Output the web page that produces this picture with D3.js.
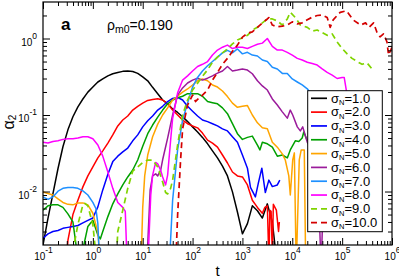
<!DOCTYPE html>
<html>
<head>
<meta charset="utf-8">
<script src="https://cdn.jsdelivr.net/npm/d3@7"></script>
<style>
  body { margin: 0; background: #fff; }
  svg text { font-family: "Liberation Sans", Arial, Helvetica, sans-serif; }
</style>
</head>
<body>
<div id="chart"></div>
<script>
// Values: t and alpha_2 for every sigma_N curve
var tS1 = [0.1, 0.126, 0.158, 0.2, 0.251, 0.316, 0.398, 0.501, 0.631, 0.794, 1, 1.26, 1.58, 2, 2.51, 3.16, 3.98, 5.01, 6.31, 7.94, 10, 12.6, 15.8, 20, 25.1, 31.6, 39.8, 50.1, 63.1, 79.4, 100, 126, 158, 200, 251, 316, 398, 501, 631, 794, 1000, 1260, 1580, 2000, 2510, 3160, 3980, 4570, 4800];
var aS1 = [0.0020, 0.0045, 0.0093, 0.020, 0.0385, 0.064, 0.095, 0.128, 0.162, 0.199, 0.232, 0.27, 0.296, 0.325, 0.346, 0.36, 0.372, 0.376, 0.37, 0.35, 0.315, 0.28, 0.23, 0.19, 0.157, 0.14, 0.12, 0.108, 0.095, 0.082, 0.07, 0.06, 0.051, 0.042, 0.034, 0.0275, 0.0215, 0.016, 0.0099, 0.0054, 0.0028, 0.0038, 0.0065, 0.0056, 0.0045, 0.0069, 0.0040, 0.0018, 0.001];

var tS2 = [0.302, 0.316, 0.398, 0.501, 0.631, 0.794, 1, 1.26, 1.58, 2, 2.51, 3.16, 3.98, 5.01, 6.31, 7.94, 10, 12.6, 15.8, 20, 25.1, 31.6, 39.8, 50.1, 63.1, 79.4, 100, 126, 158, 200, 251, 316, 398, 501, 631, 794, 1000, 1260, 1580, 2000, 2510, 2820, 3160, 3400, 3550, 3760, 3980, 4170, 4790, 5300, 5500];
var aS2 = [0.0015, 0.0023, 0.005, 0.0077, 0.0115, 0.016, 0.021, 0.0275, 0.034, 0.043, 0.055, 0.072, 0.086, 0.097, 0.116, 0.13, 0.143, 0.155, 0.16, 0.163, 0.157, 0.14, 0.116, 0.1, 0.086, 0.077, 0.072, 0.068, 0.058, 0.047, 0.043, 0.038, 0.030, 0.0236, 0.018, 0.016, 0.0155, 0.0122, 0.0077, 0.0062, 0.0052, 0.0062, 0.0065, 0.0012, 0.0057, 0.0055, 0.0015, 0.0068, 0.0057, 0.003, 0.004];

var tS3 = [0.1, 0.126, 0.158, 0.2, 0.251, 0.316, 0.398, 0.501, 0.631, 0.794, 1, 1.26, 1.58, 2, 2.51, 3.16, 3.98, 5.01, 6.31, 7.94, 10, 12.6, 15.8, 20, 25.1, 31.6, 39.8, 50.1, 63.1, 79.4, 100, 126, 158, 200, 251, 316, 398, 501, 631, 794, 1000, 1260, 1450, 1820, 2090, 2450, 2880, 3390, 3980, 5010, 5620];
var aS3 = [0.00245, 0.0028, 0.003, 0.0031, 0.0033, 0.0034, 0.0035, 0.0036, 0.0039, 0.0042, 0.0045, 0.0063, 0.0105, 0.0168, 0.0246, 0.029, 0.033, 0.037, 0.046, 0.055, 0.07, 0.084, 0.097, 0.116, 0.13, 0.15, 0.165, 0.17, 0.157, 0.13, 0.112, 0.097, 0.086, 0.082, 0.077, 0.072, 0.066, 0.062, 0.052, 0.044, 0.03, 0.0202, 0.0113, 0.0085, 0.013, 0.0202, 0.0097, 0.0141, 0.0116, 0.0122, 0.0141];

var tS4 = [0.1, 0.126, 0.158, 0.2, 0.251, 0.316, 0.398, 0.46, 0.52, 0.6, 0.66, 0.794, 1, 1.26, 1.41, 1.58, 2, 2.51, 3.16, 3.98, 5.01, 6.31, 7.94, 10, 12.6, 15.8, 20, 25.1, 31.6, 39.8, 50.1, 63.1, 79.4, 100, 126, 158, 200, 251, 316, 398, 501, 631, 794, 1000, 1260, 1580, 2000, 2240, 2510, 3160, 3980, 5010, 6310, 7940, 9120, 11500, 13500, 15800, 17000, 20000];
var aS4 = [0.0057, 0.0065, 0.0067, 0.0067, 0.0062, 0.0051, 0.004, 0.002, 0.001, 0.001, 0.002, 0.0035, 0.0042, 0.0027, 0.0024, 0.003, 0.0047, 0.0069, 0.0093, 0.0122, 0.0155, 0.0191, 0.0258, 0.039, 0.057, 0.074, 0.094, 0.116, 0.14, 0.157, 0.168, 0.176, 0.19, 0.19, 0.19, 0.176, 0.15, 0.145, 0.14, 0.124, 0.104, 0.077, 0.057, 0.048, 0.051, 0.053, 0.0405, 0.035, 0.044, 0.042, 0.038, 0.029, 0.03, 0.0275, 0.035, 0.046, 0.045, 0.05, 0.06, 0.046];

var tS5 = [0.1, 0.126, 0.158, 0.2, 0.251, 0.316, 0.398, 0.501, 0.631, 0.794, 1, 1.26, 1.41, 9.3, 10, 10.96, 12.6, 15.8, 20, 25.1, 31.6, 39.8, 50.1, 63.1, 79.4, 100, 126, 158, 200, 251, 316, 398, 501, 631, 794, 1000, 1260, 1580, 2000, 2510, 3160, 3980, 5010, 6310, 7240, 8510, 9120, 10200, 11000, 12000, 13800, 15100, 17400, 18600];
var aS5 = [0.0099, 0.0094, 0.009, 0.008, 0.0072, 0.0068, 0.0067, 0.0071, 0.0071, 0.0067, 0.0052, 0.0029, 0.0012, 0.0012, 0.0062, 0.016, 0.03, 0.052, 0.076, 0.1, 0.124, 0.157, 0.176, 0.199, 0.219, 0.247, 0.28, 0.296, 0.28, 0.247, 0.232, 0.206, 0.174, 0.143, 0.126, 0.13, 0.133, 0.1, 0.079, 0.068, 0.066, 0.044, 0.038, 0.031, 0.0258, 0.016, 0.009, 0.0258, 0.032, 0.001, 0.026, 0.035, 0.035, 0.001];

var tS6 = [12.0, 14.1, 15.8, 18.2, 20, 22.9, 25.1, 31.6, 39.8, 50.1, 63.1, 79.4, 100, 126, 158, 200, 251, 316, 398, 501, 631, 794, 1000, 1260, 1580, 2000, 2510, 3160, 3980, 5010, 6310, 7940, 9120, 10200, 12600, 14500, 16200, 20000, 25100, 31600, 38000, 43700, 50100, 60000];
var aS6 = [0.001, 0.0105, 0.016, 0.017, 0.016, 0.019, 0.026, 0.05, 0.1, 0.182, 0.226, 0.262, 0.286, 0.303, 0.286, 0.303, 0.325, 0.353, 0.376, 0.43, 0.376, 0.387, 0.4, 0.387, 0.346, 0.28, 0.24, 0.212, 0.162, 0.135, 0.11, 0.091, 0.116, 0.1, 0.07, 0.062, 0.07, 0.044, 0.035, 0.026, 0.001, 0.022, 0.02, 0.018];

var tS7 = [0.1, 0.126, 0.158, 0.2, 0.251, 0.316, 0.398, 0.501, 0.631, 0.794, 1, 1.15, 1.26, 1.38, 33.9, 39.8, 50.1, 63.1, 79.4, 100, 126, 158, 200, 251, 316, 398, 501, 631, 794, 1000, 1260, 1580, 2000, 2510, 3160, 3980, 5010, 6310, 7940, 10000, 12600, 15800, 20000, 25100];
var aS7 = [0.0085, 0.0079, 0.0085, 0.0101, 0.011, 0.0113, 0.0113, 0.011, 0.0102, 0.009, 0.0072, 0.006, 0.0038, 0.001, 0.001, 0.0077, 0.035, 0.086, 0.143, 0.232, 0.31, 0.376, 0.44, 0.5, 0.57, 0.65, 0.7, 0.65, 0.73, 0.63, 0.66, 0.608, 0.59, 0.523, 0.5, 0.42, 0.4, 0.35, 0.35, 0.296, 0.27, 0.247, 0.22, 0.18];

var tS8 = [0.1, 0.126, 0.158, 0.2, 0.251, 0.316, 0.398, 0.501, 0.631, 0.794, 1, 1.26, 1.58, 2, 2.51, 3.16, 3.98, 4.47, 4.9, 12.6, 14.5, 15.8, 18.2, 20, 22.9, 25.1, 28.8, 31.6, 36.3, 39.8, 50.1, 63.1, 79.4, 100, 126, 158, 200, 251, 316, 398, 501, 631, 794, 1000, 1260, 1580, 2000, 2510, 3160, 3980, 5010, 6310, 7940, 10000, 12600, 15800, 20000, 25100, 31600, 39800, 50100, 63100, 79400, 100000, 110000, 126000];
var aS8 = [0.044, 0.043, 0.045, 0.046, 0.048, 0.049, 0.049, 0.05, 0.052, 0.052, 0.049, 0.0405, 0.029, 0.018, 0.011, 0.0072, 0.0062, 0.0055, 0.001, 0.001, 0.009, 0.0164, 0.024, 0.023, 0.019, 0.0155, 0.0122, 0.0164, 0.047, 0.09, 0.195, 0.286, 0.325, 0.376, 0.43, 0.46, 0.5, 0.61, 0.706, 0.77, 0.82, 0.74, 0.77, 0.77, 0.74, 0.79, 0.84, 0.87, 1.0, 0.79, 0.706, 0.706, 0.66, 0.608, 0.55, 0.523, 0.49, 0.47, 0.45, 0.4, 0.36, 0.333, 0.3, 0.31, 0.31, 0.18];

var tS9 = [0.398, 0.437, 0.501, 0.631, 0.692, 0.794, 1, 1.15, 1.26, 2.9, 3.16, 3.98, 5.01, 6.31, 7.94, 10, 12.6, 15.8, 20, 25.1, 28.8, 31.6, 36.3, 39.8, 50.1, 63.1, 79.4, 100, 126, 158, 200, 251, 316, 398, 501, 631, 794, 1000, 1260, 1580, 2000, 2510, 3160, 3980, 5010, 6310, 7940, 9120, 11500, 14500, 20000, 25100, 31600, 39800, 50100, 63100, 79400, 100000, 126000, 158000, 200000, 251000, 316000, 398000, 427000];
var aS9 = [0.0012, 0.0023, 0.0037, 0.0067, 0.007, 0.0065, 0.0037, 0.0015, 0.0008, 0.001, 0.003, 0.0057, 0.011, 0.0185, 0.021, 0.024, 0.0258, 0.0258, 0.021, 0.0133, 0.0097, 0.0093, 0.011, 0.0141, 0.0405, 0.1, 0.157, 0.212, 0.26, 0.32, 0.39, 0.49, 0.57, 0.65, 0.73, 0.85, 0.955, 1.02, 1.1, 1.29, 1.4, 1.6, 1.8, 1.8, 1.7, 1.5, 1.8, 2.2, 1.88, 1.5, 1.4, 1.25, 1.29, 1.2, 1.1, 1.15, 0.9, 0.74, 0.63, 0.55, 0.5, 0.46, 0.48, 0.4, 0.38];

var tS10 = [45.7, 50.1, 57.5, 63.1, 79.4, 100, 115, 126, 158, 200, 251, 316, 398, 501, 631, 794, 1000, 1260, 1580, 2000, 2510, 3160, 3390, 3980, 5010, 6310, 7940, 10000, 12600, 15800, 20000, 25100, 31600, 39800, 50100, 57500, 66100, 91200, 123000, 166000, 234000, 295000, 347000, 427000, 501000, 575000, 676000, 794000, 851000, 1000000];
var aS10 = [0.001, 0.0049, 0.0258, 0.066, 0.135, 0.182, 0.15, 0.16, 0.182, 0.212, 0.286, 0.36, 0.46, 0.55, 0.68, 0.82, 1.04, 1.17, 1.22, 1.4, 1.6, 1.8, 1.88, 1.5, 1.42, 1.45, 1.5, 1.65, 1.55, 1.6, 1.76, 1.9, 2.0, 2.03, 1.88, 1.4, 1.75, 2.2, 2.3, 1.75, 1.5, 1.6, 1.4, 1.6, 1.2, 1.05, 1.15, 0.9, 0.608, 0.77];

// Legend labels (sigma_N values) and tick exponents
var sigmaLabels = ["1.0", "2.0", "3.0", "4.0", "5.0", "6.0", "7.0", "8.0", "9.0", "10.0"];
var xTickExp = ["-1", "0", "1", "2", "3", "4", "5", "6"];
var yTickExp = ["-2", "-1", "0"];

var tAll = [tS1, tS2, tS3, tS4, tS5, tS6, tS7, tS8, tS9, tS10];
var aAll = [aS1, aS2, aS3, aS4, aS5, aS6, aS7, aS8, aS9, aS10];
var lineColors = ["#000000", "#ff0000", "#0000ff", "#00a000", "#ffa500", "#9b1b9b", "#1e90ff", "#ff00ff", "#80d400", "#d40000"];
var lineDash = [null, null, null, null, null, null, null, null, "6,4", "6,4"];

// Set svg height and width
var svgWidth = 399;
var svgHeight = 278;
var margin = { top: 2, right: 7, bottom: 33, left: 43 };
var chartWidth = svgWidth - margin.left - margin.right;
var chartHeight = svgHeight - margin.top - margin.bottom;

var svg = d3.select("#chart")
    .append("svg")
    .attr("width", svgWidth)
    .attr("height", svgHeight);

var chartGroup = svg.append("g")
    .attr("transform", `translate(${margin.left}, ${margin.top})`);

// Log scales
var xLogScale = d3.scaleLog().domain([0.1, 1e6]).range([0, chartWidth]);
var yLogScale = d3.scaleLog().domain([0.002, 3]).range([chartHeight, 0]);

var xMajor = xTickExp.map(e => Math.pow(10, +e));
var yMajor = yTickExp.map(e => Math.pow(10, +e));

// minor ticks 2..9 inside each decade
function minorTicks(scale) {
    var dom = scale.domain(), out = [];
    for (var e = Math.floor(Math.log10(dom[0])); e <= Math.ceil(Math.log10(dom[1])); e++) {
        for (var m = 2; m <= 9; m++) {
            var v = m * Math.pow(10, e);
            if (v > dom[0] * 1.001 && v < dom[1] * 0.999) out.push(v);
        }
    }
    return out;
}

// "10" with a raised exponent
function powerLabels(g, exps) {
    g.selectAll(".tick text").each(function (d, i) {
        var t = d3.select(this).text("");
        t.append("tspan").text("10");
        t.append("tspan").attr("dy", -7).attr("font-size", "8.5px").text(exps[i]);
    });
}

// Curves, clipped to the plot area
svg.append("defs").append("clipPath").attr("id", "plotClip")
    .append("rect").attr("width", chartWidth).attr("height", chartHeight);

var line = d3.line()
    .x(d => xLogScale(d[0]))
    .y(d => yLogScale(d[1]));

var curves = chartGroup.append("g").attr("clip-path", "url(#plotClip)");
tAll.forEach(function (tArr, i) {
    curves.append("path")
        .datum(d3.zip(tArr, aAll[i]))
        .attr("d", line)
        .attr("fill", "none")
        .attr("stroke", lineColors[i])
        .attr("stroke-width", lineDash[i] ? 1.7 : 1.5)
        .attr("stroke-dasharray", lineDash[i])
        .attr("stroke-linejoin", "round");
});

// Axes: ticks point inward on all four sides
var xBottom = chartGroup.append("g")
    .attr("transform", `translate(0, ${chartHeight})`)
    .attr("font-size", 12)
    .call(d3.axisBottom(xLogScale).tickValues(xMajor).tickSize(-7).tickSizeOuter(0).tickPadding(8).tickFormat(""));
powerLabels(xBottom, xTickExp);
chartGroup.append("g")
    .attr("transform", `translate(0, ${chartHeight})`)
    .call(d3.axisBottom(xLogScale).tickValues(minorTicks(xLogScale)).tickSize(-4).tickSizeOuter(0).tickFormat(""));
chartGroup.append("g")
    .call(d3.axisTop(xLogScale).tickValues(xMajor).tickSize(-7).tickSizeOuter(0).tickFormat(""));
chartGroup.append("g")
    .call(d3.axisTop(xLogScale).tickValues(minorTicks(xLogScale)).tickSize(-4).tickSizeOuter(0).tickFormat(""));

var yLeft = chartGroup.append("g")
    .attr("font-size", 12)
    .call(d3.axisLeft(yLogScale).tickValues(yMajor).tickSize(-7).tickSizeOuter(0).tickPadding(6).tickFormat(""));
yLeft.selectAll(".tick text").attr("dy", "0.67em");
powerLabels(yLeft, yTickExp);
chartGroup.append("g")
    .call(d3.axisLeft(yLogScale).tickValues(minorTicks(yLogScale)).tickSize(-4).tickSizeOuter(0).tickFormat(""));
chartGroup.append("g")
    .attr("transform", `translate(${chartWidth}, 0)`)
    .call(d3.axisRight(yLogScale).tickValues(yMajor).tickSize(-7).tickSizeOuter(0).tickFormat(""));
chartGroup.append("g")
    .attr("transform", `translate(${chartWidth}, 0)`)
    .call(d3.axisRight(yLogScale).tickValues(minorTicks(yLogScale)).tickSize(-4).tickSizeOuter(0).tickFormat(""));

chartGroup.selectAll(".domain").remove();

// Frame
chartGroup.append("rect")
    .attr("width", chartWidth)
    .attr("height", chartHeight)
    .attr("fill", "none")
    .attr("stroke", "#000")
    .attr("stroke-width", 1.2);

// Axis titles
svg.append("text")
    .attr("x", 217.5)
    .attr("y", 276)
    .attr("text-anchor", "middle")
    .attr("font-size", 15)
    .text("t");

var yTitle = svg.append("text")
    .attr("transform", "translate(14, 122) rotate(-90)")
    .attr("text-anchor", "middle")
    .attr("font-size", 16);
yTitle.append("tspan").text("α");
yTitle.append("tspan").attr("font-size", 10).attr("dy", 2).text("2");

// Panel letter and density annotation
svg.append("text")
    .attr("x", 61)
    .attr("y", 30)
    .attr("font-size", 17)
    .attr("font-weight", "bold")
    .text("a");

var rhoText = svg.append("text")
    .attr("x", 107)
    .attr("y", 30)
    .attr("font-size", 14);
rhoText.append("tspan").text("ρ");
rhoText.append("tspan").attr("font-size", 10.5).attr("dy", 3).text("m0");
rhoText.append("tspan").attr("dy", -3).text("=0.190");

// Legend
var legendBox = { x: 307.7, y: 90.7, w: 74.6, h: 141 };
var legend = svg.append("g");
legend.append("rect")
    .attr("x", legendBox.x)
    .attr("y", legendBox.y)
    .attr("width", legendBox.w)
    .attr("height", legendBox.h)
    .attr("fill", "#fff")
    .attr("stroke", "#000")
    .attr("stroke-width", 1);

sigmaLabels.forEach(function (lab, i) {
    var cy = 98.3 + i * 13.82;
    legend.append("line")
        .attr("x1", 311).attr("x2", 327)
        .attr("y1", cy).attr("y2", cy)
        .attr("stroke", lineColors[i])
        .attr("stroke-width", 1.7)
        .attr("stroke-dasharray", lineDash[i] ? "6,4" : null);
    var txt = legend.append("text")
        .attr("x", 331)
        .attr("y", cy + 4.3)
        .attr("font-size", 13);
    txt.append("tspan").text("σ");
    txt.append("tspan").attr("font-size", 7.5).attr("dy", 2.5).text("N");
    txt.append("tspan").attr("dy", -2.5).text("=" + lab);
});
</script>
</body>
</html>
